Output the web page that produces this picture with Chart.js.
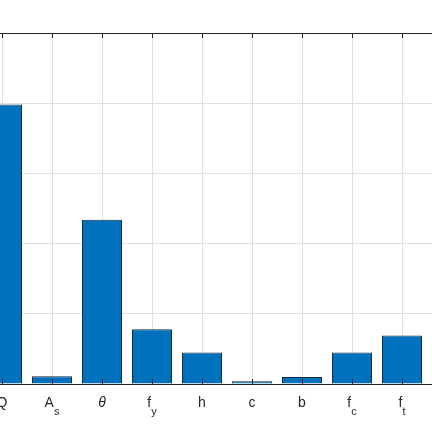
<!DOCTYPE html>
<html>
<head>
<meta charset="utf-8">
<script src="https://cdn.jsdelivr.net/npm/chart.js@4"></script>
<style>
  html, body { margin: 0; padding: 0; background: #fff; overflow: hidden; }
  #wrap { position: absolute; left: -40px; top: 0; width: 480px; height: 432px; }
</style>
</head>
<body>
<div id="wrap"><canvas id="bars"></canvas></div>
<script>
// tick labels: main glyph + subscript
const labels = ['Q', 'A', 'θ', 'f', 'h', 'c', 'b', 'f', 'f'];
const subs = ['', 's', '', 'y', '', '', '', 'c', 't'];
const values = [0.398, 0.011, 0.234, 0.078, 0.045, 0.004, 0.010, 0.045, 0.069];
const yTicks = [0, 0.1, 0.2, 0.3, 0.4, 0.5];

const axisColor = '#262626';
const gridColor = '#e0e0e0';

// MATLAB-like box, inward ticks and subscripted tick labels
const axisDecor = {
  id: 'axisDecor',
  afterDatasetsDraw(chart) {
    const { ctx, chartArea: a, scales: { x, y } } = chart;
    ctx.save();
    ctx.strokeStyle = axisColor;
    ctx.lineWidth = 1;
    ctx.beginPath();
    x.ticks.forEach(t => {
      const px = Math.round(x.getPixelForValue(t.value)) + 0.5;
      ctx.moveTo(px, a.bottom);
      ctx.lineTo(px, a.bottom - 5);
      ctx.moveTo(px, a.top);
      ctx.lineTo(px, a.top + 5);
    });
    y.ticks.forEach(t => {
      const py = Math.round(y.getPixelForValue(t.value)) + 0.5;
      ctx.moveTo(a.left, py);
      ctx.lineTo(a.left + 5, py);
    });
    ctx.moveTo(a.left, a.top + 0.5);
    ctx.lineTo(a.right, a.top + 0.5);
    ctx.moveTo(a.left, a.bottom + 0.5);
    ctx.lineTo(a.right, a.bottom + 0.5);
    ctx.stroke();

    ctx.fillStyle = axisColor;
    ctx.textBaseline = 'alphabetic';
    ctx.textAlign = 'left';
    labels.forEach((lab, i) => {
      const cx = x.getPixelForValue(i + 1);
      const mainFont = (lab === 'θ' ? 'italic ' : '') + '14px "Liberation Sans", Arial, sans-serif';
      const subFont = '11px "Liberation Sans", Arial, sans-serif';
      ctx.font = mainFont;
      const w1 = ctx.measureText(lab).width;
      ctx.font = subFont;
      const w2 = subs[i] ? ctx.measureText(subs[i]).width : 0;
      const left = cx - (w1 + w2) / 2;
      ctx.font = mainFont;
      ctx.fillText(lab, left, a.bottom + 23);
      if (subs[i]) {
        ctx.font = subFont;
        ctx.fillText(subs[i], left + w1, a.bottom + 31);
      }
    });
    ctx.restore();
  }
};

new Chart(document.getElementById('bars'), {
  type: 'bar',
  data: {
    datasets: [{
      data: values.map((v, i) => ({ x: i + 1, y: v })),
      backgroundColor: '#0072BD',
      borderColor: '#1a2a3a',
      borderWidth: 1,
      barPercentage: 0.8,
      categoryPercentage: 1
    }]
  },
  options: {
    responsive: true,
    maintainAspectRatio: false,
    animation: false,
    layout: { padding: { left: 12, right: 8, top: 33, bottom: 0 } },
    plugins: { legend: { display: false }, tooltip: { enabled: false } },
    scales: {
      x: {
        type: 'linear',
        min: 0.4,
        max: 9.6,
        offset: false,
        afterBuildTicks: s => { s.ticks = labels.map((_, i) => ({ value: i + 1 })); },
        afterFit: s => { s.height = 48; },
        ticks: { display: false },
        grid: { color: gridColor, drawTicks: false, offset: false },
        border: { display: false }
      },
      y: {
        min: 0,
        max: 0.5,
        afterBuildTicks: s => { s.ticks = yTicks.map(v => ({ value: v })); },
        afterFit: s => { s.width = 0; },
        ticks: { display: false },
        grid: { color: gridColor, drawTicks: false },
        border: { display: false }
      }
    }
  },
  plugins: [axisDecor]
});
</script>
</body>
</html>
